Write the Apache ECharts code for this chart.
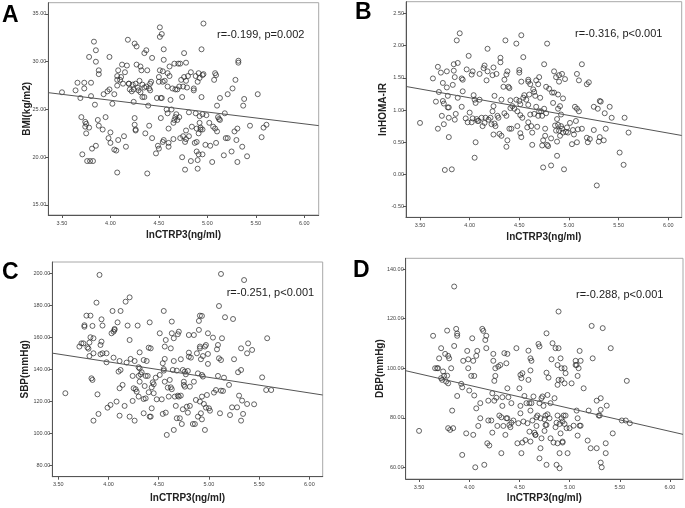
<!DOCTYPE html>
<html><head><meta charset="utf-8">
<script src="https://cdn.jsdelivr.net/npm/echarts@6/dist/echarts.min.js"></script>
<style>html,body{margin:0;padding:0;background:#fff}#c{width:685px;height:508px}</style>
</head><body><div id="c"></div>
<script>
// ---- data ----
const xTicks = [3.5, 4.0, 4.5, 5.0, 5.5, 6.0];
const yTicksA = [15, 20, 25, 30, 35];
const yTicksB = [-0.5, 0, 0.5, 1.0, 1.5, 2.0, 2.5];
const yTicksC = [80, 100, 120, 140, 160, 180, 200];
const yTicksD = [60, 80, 100, 120, 140];
const panelLetters = ['A', 'B', 'C', 'D'];
const xName = 'lnCTRP3(ng/ml)';
const yNames = ['BMI(kg/m2)', 'lnHOMA-IR', 'SBP(mmHg)', 'DBP(mmHg)'];
const statTexts = ['r=-0.199, p=0.002', 'r=-0.316, p<0.001', 'r=-0.251, p<0.001', 'r=-0.288, p<0.001'];

const fitA = [[3.359, 26.76], [6.149, 23.31]];
const fitB = [[3.359, 1.365], [6.135, 0.605]];
const fitC = [[3.44, 150.2], [6.133, 124.1]];
const fitD = [[3.367, 99.0], [6.13, 73.3]];

const ptsA = [[3.50,26.8],[3.64,27.0],[3.66,27.8],[3.69,26.2],[3.70,24.2],[3.71,20.3],[3.73,27.8],[3.73,27.2],[3.74,23.7],[3.74,23.2],[3.75,22.5],[3.75,23.5],[3.76,19.6],[3.78,23.1],[3.79,19.6],[3.78,30.5],[3.80,26.4],[3.80,27.8],[3.81,20.9],[3.82,19.6],[3.83,32.1],[3.84,25.5],[3.85,31.2],[3.85,30.0],[3.85,21.2],[3.87,23.9],[3.88,23.3],[3.88,29.1],[3.88,28.7],[3.93,26.6],[3.92,22.9],[3.95,24.2],[3.97,26.9],[3.98,22.0],[3.99,27.1],[3.99,30.5],[4.00,22.6],[4.00,21.5],[4.02,25.6],[4.04,20.8],[4.06,20.7],[4.04,26.6],[4.07,28.5],[4.07,28.1],[4.08,29.1],[4.07,27.5],[4.07,18.4],[4.08,21.8],[4.10,28.1],[4.11,28.4],[4.12,29.7],[4.13,27.7],[4.14,22.2],[4.15,28.9],[4.16,21.1],[4.17,29.6],[4.18,32.3],[4.19,27.7],[4.19,27.7],[4.20,27.1],[4.22,26.9],[4.23,27.6],[4.24,25.8],[4.24,27.1],[4.25,31.9],[4.25,24.1],[4.25,23.4],[4.26,22.9],[4.26,22.8],[4.26,27.7],[4.27,31.6],[4.27,29.7],[4.28,27.3],[4.29,27.0],[4.30,28.0],[4.31,29.5],[4.31,26.8],[4.32,29.1],[4.33,27.6],[4.33,26.3],[4.35,30.9],[4.35,26.3],[4.35,27.3],[4.36,22.5],[4.37,31.2],[4.37,27.4],[4.38,29.1],[4.38,18.3],[4.39,25.4],[4.40,27.2],[4.40,23.3],[4.41,27.7],[4.41,27.0],[4.42,27.9],[4.43,30.4],[4.43,22.0],[4.47,20.4],[4.48,26.2],[4.49,21.2],[4.50,27.9],[4.50,28.4],[4.50,20.9],[4.51,32.6],[4.51,33.6],[4.51,29.1],[4.52,24.1],[4.52,26.2],[4.53,26.2],[4.53,32.9],[4.54,27.9],[4.54,29.0],[4.54,21.6],[4.55,21.8],[4.55,31.3],[4.55,30.2],[4.56,28.0],[4.58,25.0],[4.59,27.4],[4.59,24.6],[4.59,28.8],[4.60,23.0],[4.60,21.5],[4.60,21.1],[4.61,29.5],[4.61,28.5],[4.62,26.0],[4.63,25.0],[4.64,27.2],[4.65,23.6],[4.65,21.9],[4.66,23.9],[4.66,29.8],[4.67,27.1],[4.67,24.2],[4.68,24.5],[4.69,27.1],[4.69,23.9],[4.70,29.8],[4.71,27.4],[4.71,24.2],[4.72,29.8],[4.72,22.0],[4.73,28.1],[4.74,26.3],[4.74,20.0],[4.75,27.4],[4.75,22.2],[4.76,30.9],[4.76,28.4],[4.77,21.6],[4.77,18.7],[4.78,29.9],[4.78,22.8],[4.78,21.9],[4.78,28.0],[4.79,27.3],[4.80,28.5],[4.81,24.7],[4.81,22.2],[4.83,28.9],[4.83,19.6],[4.84,23.2],[4.86,27.2],[4.86,27.0],[4.87,21.5],[4.88,24.6],[4.88,28.5],[4.89,23.0],[4.89,20.6],[4.89,21.6],[4.90,18.8],[4.90,27.9],[4.90,19.7],[4.91,20.3],[4.91,22.5],[4.91,28.8],[4.92,28.3],[4.92,23.6],[4.92,24.3],[4.93,23.1],[4.93,22.9],[4.94,31.3],[4.94,26.3],[4.95,28.6],[4.95,22.9],[4.95,24.5],[4.95,20.3],[4.96,34.0],[4.96,28.7],[4.98,21.3],[4.99,24.4],[5.02,23.6],[5.03,21.2],[5.05,19.5],[5.06,23.2],[5.07,28.1],[5.08,28.8],[5.08,23.0],[5.09,21.5],[5.09,28.6],[5.10,25.4],[5.10,22.7],[5.11,24.2],[5.12,24.0],[5.13,26.2],[5.13,23.9],[5.17,20.2],[5.18,24.6],[5.19,22.0],[5.21,26.6],[5.21,22.0],[5.25,20.6],[5.26,27.2],[5.28,22.7],[5.29,28.1],[5.30,21.8],[5.31,19.5],[5.31,23.0],[5.32,30.1],[5.32,29.9],[5.36,21.1],[5.37,25.4],[5.38,26.1],[5.41,20.1],[5.44,23.3],[5.52,26.6],[5.56,22.1],[5.58,23.1],[5.61,23.4]];

const ptsB = [[3.50,0.80],[3.63,1.49],[3.66,1.13],[3.68,1.67],[3.68,0.71],[3.69,1.28],[3.71,1.58],[3.72,0.91],[3.73,1.14],[3.73,1.42],[3.74,1.10],[3.74,0.78],[3.75,0.07],[3.77,1.60],[3.77,1.35],[3.78,1.04],[3.78,1.22],[3.79,0.58],[3.79,1.04],[3.79,0.88],[3.82,0.08],[3.83,1.39],[3.84,1.71],[3.84,1.61],[3.85,0.85],[3.85,1.51],[3.86,0.94],[3.87,2.08],[3.88,1.73],[3.88,1.19],[3.90,2.19],[3.92,1.05],[3.92,1.49],[3.93,1.47],[3.93,1.29],[3.96,0.87],[3.97,1.63],[3.98,0.81],[3.99,1.84],[4.00,0.96],[4.02,1.55],[4.02,0.81],[4.03,0.87],[4.03,1.60],[4.04,1.23],[4.05,1.16],[4.05,0.26],[4.06,1.11],[4.06,0.50],[4.07,0.86],[4.08,0.83],[4.09,0.83],[4.10,1.56],[4.10,1.16],[4.12,0.88],[4.13,0.75],[4.14,1.65],[4.15,0.80],[4.15,1.69],[4.16,0.88],[4.17,1.46],[4.18,1.95],[4.18,1.60],[4.19,0.85],[4.21,0.88],[4.22,0.78],[4.23,1.54],[4.23,0.98],[4.24,1.66],[4.24,1.06],[4.24,0.62],[4.25,0.79],[4.25,1.22],[4.26,0.75],[4.27,1.56],[4.28,0.91],[4.29,0.88],[4.30,0.63],[4.31,1.74],[4.31,1.81],[4.32,1.16],[4.32,0.60],[4.34,1.36],[4.35,1.47],[4.35,0.95],[4.36,2.08],[4.37,1.55],[4.37,0.91],[4.37,0.43],[4.38,1.60],[4.38,0.53],[4.39,1.36],[4.40,1.34],[4.40,0.71],[4.41,1.03],[4.41,1.15],[4.42,0.71],[4.43,1.06],[4.45,1.02],[4.47,2.03],[4.47,1.16],[4.48,0.75],[4.48,0.98],[4.50,1.62],[4.50,1.58],[4.50,1.14],[4.51,0.92],[4.51,0.64],[4.51,1.09],[4.52,1.44],[4.52,2.16],[4.52,0.58],[4.53,0.88],[4.54,1.82],[4.54,1.19],[4.55,1.23],[4.57,1.16],[4.58,0.73],[4.59,1.44],[4.59,1.47],[4.59,1.08],[4.59,0.81],[4.60,1.24],[4.61,1.40],[4.61,0.93],[4.62,0.75],[4.63,0.46],[4.63,0.65],[4.64,1.32],[4.65,0.94],[4.65,1.28],[4.66,1.22],[4.67,1.46],[4.67,1.05],[4.68,0.74],[4.69,1.40],[4.69,0.91],[4.70,1.51],[4.70,0.98],[4.71,1.19],[4.72,0.98],[4.73,0.91],[4.73,0.45],[4.74,0.53],[4.74,0.11],[4.75,1.02],[4.75,1.71],[4.76,0.71],[4.76,0.60],[4.77,0.95],[4.77,1.36],[4.78,0.46],[4.78,2.03],[4.79,0.44],[4.80,1.33],[4.82,0.14],[4.82,0.56],[4.83,1.27],[4.84,1.11],[4.85,1.60],[4.85,1.27],[4.86,0.76],[4.87,0.68],[4.87,1.51],[4.88,0.86],[4.88,0.51],[4.88,0.29],[4.89,1.02],[4.89,1.24],[4.89,0.77],[4.90,1.54],[4.90,0.68],[4.90,1.44],[4.91,0.60],[4.91,1.06],[4.92,0.75],[4.92,0.93],[4.93,0.71],[4.93,1.56],[4.94,1.18],[4.94,0.65],[4.95,0.08],[4.96,1.48],[4.97,0.66],[4.98,0.73],[4.99,0.65],[5.01,0.80],[5.03,0.47],[5.04,0.69],[5.05,0.62],[5.06,1.05],[5.07,0.83],[5.08,1.02],[5.08,0.50],[5.08,1.56],[5.09,0.70],[5.10,0.98],[5.10,1.46],[5.13,1.71],[5.13,0.71],[5.18,0.57],[5.18,1.40],[5.19,0.50],[5.20,1.43],[5.21,0.55],[5.25,0.69],[5.25,1.05],[5.28,-0.17],[5.29,1.02],[5.30,0.51],[5.31,1.14],[5.31,0.58],[5.32,1.13],[5.35,0.53],[5.37,0.71],[5.36,0.95],[5.41,1.05],[5.43,0.88],[5.51,0.34],[5.55,0.15],[5.56,0.88],[5.60,0.65]];

const ptsC = [[3.57,125.2],[3.71,154.3],[3.73,156.3],[3.75,156.3],[3.76,166.7],[3.76,167.6],[3.78,173.6],[3.79,153.8],[3.80,153.0],[3.81,156.8],[3.81,148.4],[3.82,173.6],[3.82,160.1],[3.83,134.5],[3.84,133.5],[3.84,167.2],[3.85,159.5],[3.85,150.1],[3.85,108.1],[3.88,181.7],[3.89,124.5],[3.90,112.3],[3.91,199.0],[3.92,149.5],[3.92,155.3],[3.93,171.3],[3.93,157.4],[3.94,167.4],[3.94,150.1],[3.98,150.1],[3.98,144.5],[3.99,116.2],[4.02,117.9],[4.03,162.6],[4.04,176.5],[4.05,163.6],[4.05,147.4],[4.06,164.7],[4.06,165.3],[4.08,120.0],[4.09,169.4],[4.10,138.7],[4.11,128.3],[4.11,111.2],[4.11,145.3],[4.12,139.7],[4.12,176.5],[4.14,130.4],[4.16,117.3],[4.17,182.3],[4.18,144.3],[4.19,167.4],[4.21,185.0],[4.21,110.6],[4.21,158.4],[4.22,146.6],[4.24,136.0],[4.24,120.4],[4.25,128.3],[4.26,108.1],[4.26,145.3],[4.27,127.7],[4.28,126.2],[4.29,167.4],[4.30,141.4],[4.30,136.0],[4.30,123.1],[4.31,150.7],[4.31,140.7],[4.31,132.4],[4.32,137.0],[4.33,138.3],[4.35,121.6],[4.35,145.9],[4.35,112.7],[4.36,129.7],[4.37,136.0],[4.37,122.0],[4.38,145.3],[4.39,136.0],[4.40,153.6],[4.40,125.8],[4.41,110.6],[4.41,169.4],[4.42,153.2],[4.42,110.6],[4.43,115.8],[4.43,128.9],[4.44,132.0],[4.45,130.8],[4.45,125.2],[4.47,134.9],[4.48,121.4],[4.51,162.6],[4.51,136.6],[4.53,121.4],[4.54,143.9],[4.54,112.3],[4.55,176.5],[4.55,139.3],[4.55,140.3],[4.56,132.4],[4.56,154.3],[4.56,146.6],[4.57,158.4],[4.57,113.1],[4.58,99.2],[4.59,128.7],[4.60,123.1],[4.61,133.5],[4.62,153.2],[4.62,128.9],[4.63,162.6],[4.63,169.9],[4.63,127.7],[4.64,139.7],[4.65,159.5],[4.65,102.3],[4.65,145.3],[4.66,123.1],[4.67,117.3],[4.68,109.6],[4.68,139.3],[4.69,162.0],[4.69,123.7],[4.70,163.6],[4.70,123.1],[4.71,109.6],[4.72,123.7],[4.72,146.4],[4.73,106.0],[4.74,139.7],[4.74,115.2],[4.75,132.4],[4.75,130.4],[4.76,129.3],[4.76,138.7],[4.77,137.0],[4.78,116.8],[4.79,139.1],[4.79,113.1],[4.80,161.5],[4.80,150.5],[4.80,148.0],[4.81,117.3],[4.81,129.3],[4.82,147.4],[4.84,106.0],[4.85,161.5],[4.85,132.4],[4.86,106.0],[4.87,121.0],[4.88,150.1],[4.89,110.6],[4.89,137.6],[4.90,170.3],[4.90,164.7],[4.91,153.2],[4.91,120.0],[4.91,173.6],[4.91,154.3],[4.92,146.4],[4.92,112.7],[4.93,173.4],[4.93,123.1],[4.93,136.6],[4.93,108.9],[4.94,148.4],[4.94,135.6],[4.95,118.5],[4.96,102.3],[4.96,154.3],[4.97,155.3],[4.97,116.2],[4.98,124.1],[4.99,143.5],[4.99,149.7],[4.99,162.6],[5.00,115.8],[5.01,114.3],[5.04,159.9],[5.05,125.6],[5.07,127.2],[5.08,152.6],[5.09,155.3],[5.09,136.0],[5.10,147.0],[5.10,179.6],[5.11,112.7],[5.12,199.6],[5.12,126.8],[5.12,145.9],[5.13,159.5],[5.14,126.6],[5.15,134.9],[5.16,172.6],[5.20,130.4],[5.21,111.6],[5.23,116.4],[5.24,171.5],[5.25,146.4],[5.28,116.4],[5.29,138.3],[5.30,123.7],[5.32,139.7],[5.32,108.1],[5.32,153.2],[5.33,120.6],[5.34,112.3],[5.35,195.8],[5.38,118.5],[5.38,150.1],[5.39,156.3],[5.43,152.2],[5.45,118.3],[5.53,135.1],[5.57,127.2],[5.58,159.5],[5.62,127.2]];

const ptsD = [[3.50,74.7],[3.64,113.1],[3.66,100.0],[3.68,100.0],[3.69,100.0],[3.70,104.0],[3.72,108.1],[3.72,96.0],[3.73,95.3],[3.74,98.7],[3.75,96.9],[3.76,105.8],[3.77,94.6],[3.78,115.2],[3.78,97.0],[3.79,105.0],[3.79,75.8],[3.79,93.9],[3.80,104.0],[3.81,75.1],[3.82,100.0],[3.83,82.9],[3.84,75.8],[3.85,109.0],[3.85,133.0],[3.87,115.9],[3.88,113.1],[3.88,114.0],[3.88,88.8],[3.92,93.7],[3.93,92.3],[3.93,65.0],[3.94,103.0],[3.97,73.7],[3.98,107.0],[3.99,100.0],[3.99,103.6],[4.00,91.0],[4.02,96.9],[4.03,112.1],[4.04,73.1],[4.04,103.0],[4.05,96.9],[4.05,89.0],[4.06,60.0],[4.07,105.0],[4.07,83.8],[4.08,107.0],[4.09,76.7],[4.11,79.8],[4.11,85.9],[4.13,115.9],[4.14,115.1],[4.15,61.0],[4.16,111.4],[4.17,113.1],[4.17,108.1],[4.18,69.7],[4.19,78.9],[4.19,86.9],[4.20,68.8],[4.22,78.9],[4.23,89.9],[4.23,74.0],[4.24,105.8],[4.24,103.0],[4.25,86.9],[4.25,94.9],[4.26,96.9],[4.26,100.0],[4.27,88.1],[4.28,76.7],[4.29,100.7],[4.30,80.9],[4.31,101.3],[4.32,80.2],[4.32,65.7],[4.33,84.8],[4.33,88.3],[4.34,76.7],[4.35,106.1],[4.36,73.1],[4.37,79.8],[4.37,102.0],[4.38,105.8],[4.38,91.9],[4.38,79.8],[4.39,88.3],[4.40,77.1],[4.41,76.2],[4.42,85.9],[4.42,78.0],[4.44,78.9],[4.47,108.1],[4.48,69.7],[4.49,77.8],[4.50,91.9],[4.51,97.3],[4.51,81.8],[4.51,84.8],[4.52,96.0],[4.52,65.7],[4.53,98.0],[4.53,70.0],[4.54,78.5],[4.55,88.8],[4.56,71.0],[4.57,85.9],[4.58,77.8],[4.59,107.1],[4.59,95.3],[4.60,85.9],[4.60,74.4],[4.61,104.0],[4.61,70.4],[4.61,82.9],[4.61,99.1],[4.62,103.0],[4.62,85.9],[4.63,78.9],[4.64,88.6],[4.65,74.0],[4.66,73.1],[4.66,73.1],[4.67,76.7],[4.67,80.2],[4.68,80.9],[4.69,109.8],[4.70,108.8],[4.70,85.9],[4.70,63.6],[4.71,67.7],[4.71,79.8],[4.72,87.9],[4.72,71.7],[4.73,88.6],[4.74,84.8],[4.75,74.7],[4.75,79.4],[4.76,77.1],[4.76,80.9],[4.77,61.0],[4.77,98.2],[4.77,114.1],[4.77,77.1],[4.78,89.2],[4.78,81.4],[4.79,96.2],[4.80,79.8],[4.81,85.9],[4.81,71.7],[4.82,103.6],[4.83,110.1],[4.84,70.0],[4.85,87.9],[4.86,108.1],[4.86,76.2],[4.87,61.0],[4.87,78.0],[4.88,101.3],[4.88,93.3],[4.88,80.9],[4.88,69.7],[4.89,122.9],[4.89,108.1],[4.89,95.3],[4.90,65.7],[4.90,59.6],[4.90,77.5],[4.91,73.7],[4.91,104.0],[4.92,100.0],[4.92,79.8],[4.92,95.3],[4.93,70.4],[4.93,70.0],[4.93,78.5],[4.94,80.9],[4.95,100.0],[4.95,93.9],[4.95,77.5],[4.96,80.9],[4.96,98.0],[4.97,75.8],[4.98,65.7],[5.00,75.8],[5.02,93.9],[5.04,76.8],[5.06,103.0],[5.06,101.3],[5.07,82.9],[5.07,101.3],[5.08,96.9],[5.08,79.8],[5.08,72.8],[5.09,100.0],[5.10,107.0],[5.10,76.8],[5.11,76.8],[5.11,103.0],[5.14,91.9],[5.18,70.8],[5.19,82.9],[5.21,67.7],[5.22,117.1],[5.23,104.0],[5.27,67.7],[5.27,86.9],[5.29,80.9],[5.30,80.9],[5.31,83.2],[5.31,87.9],[5.31,61.9],[5.32,60.0],[5.33,116.2],[5.36,69.7],[5.36,65.7],[5.37,84.9],[5.41,108.1],[5.43,73.7],[5.52,78.9],[5.56,78.9],[5.57,94.9],[5.60,77.8]];

// ---- layout ----
const panels = [
  {grid:{left:48.3, top:2.7, width:270.4, height:212.3}, xr:[3.359,6.149], yr:[13.95,36.18], yt:yTicksA, pts:ptsA, fit:fitA, yGap:16, xGap:15.5, letter:[2,4], stat:[217,29]},
  {grid:{left:406, top:1.7, width:275.7, height:215.6}, xr:[3.359,6.135], yr:[-0.664,2.68], yt:yTicksB, pts:ptsB, fit:fitB, yGap:18, xGap:14.5, letter:[355,1], stat:[575,28]},
  {grid:{left:52.3, top:262, width:270.4, height:214.7}, xr:[3.44,6.133], yr:[73.14,207.05], yt:yTicksC, pts:ptsC, fit:fitC, yGap:22, xGap:16.5, letter:[2,261], stat:[226.7,287]},
  {grid:{left:405.7, top:258.3, width:277.3, height:220.7}, xr:[3.367,6.13], yr:[55.27,144.4], yt:yTicksD, pts:ptsD, fit:fitD, yGap:20.5, xGap:14, letter:[353,259], stat:[576,289]}
];

const FONT = 'Liberation Sans, Arial, sans-serif';
const option = {animation:false, backgroundColor:'#fff', grid:[], xAxis:[], yAxis:[], series:[], title:[]};
panels.forEach((p,i)=>{
  option.grid.push(Object.assign({show:true, borderColor:'#a8a8a8', borderWidth:1, backgroundColor:'#fff', containLabel:false}, p.grid));
  option.xAxis.push({type:'value', gridIndex:i, min:p.xr[0], max:p.xr[1],
    name:xName, nameLocation:'middle', nameGap:p.xGap, nameMoveOverlap:false,
    nameTextStyle:{fontFamily:FONT, fontWeight:'bold', fontSize:10, color:'#222'},
    axisLine:{show:true, onZero:false, lineStyle:{color:'#555', width:1}},
    axisTick:{show:true, length:3, customValues:xTicks, lineStyle:{color:'#555'}},
    axisLabel:{customValues:xTicks, fontSize:5.5, color:'#444', fontFamily:FONT, margin:5, formatter:v=>v.toFixed(2)},
    splitLine:{show:false}});
  option.yAxis.push({type:'value', gridIndex:i, min:p.yr[0], max:p.yr[1],
    name:yNames[i], nameLocation:'middle', nameGap:p.yGap, nameRotate:90, nameMoveOverlap:false,
    nameTextStyle:{fontFamily:FONT, fontWeight:'bold', fontSize:10, color:'#222'},
    axisLine:{show:true, onZero:false, lineStyle:{color:'#555', width:1}},
    axisTick:{show:true, length:3, customValues:p.yt, lineStyle:{color:'#555'}},
    axisLabel:{customValues:p.yt, fontSize:5.5, color:'#444', fontFamily:FONT, margin:2, formatter:v=>v.toFixed(2)},
    splitLine:{show:false}});
  option.series.push({type:'scatter', xAxisIndex:i, yAxisIndex:i, data:p.pts, symbol:'circle', symbolSize:5,
    itemStyle:{color:'rgba(255,255,255,0)', borderColor:'#2a2a2a', borderWidth:0.9}, emphasis:{disabled:true}, silent:true});
  option.series.push({type:'line', xAxisIndex:i, yAxisIndex:i, data:p.fit, symbol:'none',
    lineStyle:{color:'#555', width:1}, emphasis:{disabled:true}, silent:true});
  option.title.push({text:panelLetters[i], left:p.letter[0], top:p.letter[1], padding:0,
    textStyle:{fontFamily:FONT, fontWeight:'bold', fontSize:23, color:'#000'}});
  option.title.push({text:statTexts[i], left:p.stat[0], top:p.stat[1], padding:0,
    textStyle:{fontFamily:FONT, fontWeight:'normal', fontSize:11, color:'#222'}});
});
const chart = echarts.init(document.getElementById('c'), null, {renderer:'canvas'});
chart.setOption(option);
</script></body></html>
